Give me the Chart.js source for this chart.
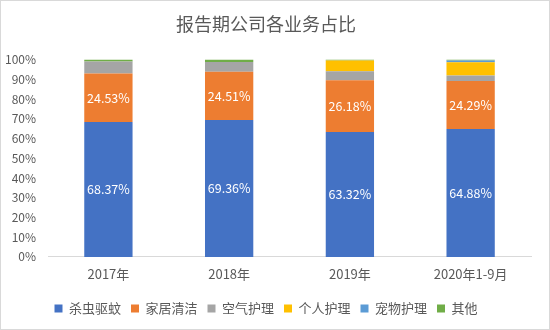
<!DOCTYPE html>
<html>
<head>
<meta charset="utf-8">
<script src="https://cdn.jsdelivr.net/npm/chart.js@4"></script>
<style>
  html, body { margin: 0; padding: 0; background: #fff; }
  #wrap { width: 548px; height: 328px; border: 1px solid #d9d9d9; position: relative; }
</style>
</head>
<body>
<div id="wrap"><canvas id="bizChart"></canvas></div>
<script>
var categories = ["2017年", "2018年", "2019年", "2020年1-9月"];
var seriesNames = ["杀虫驱蚊", "家居清洁", "空气护理", "个人护理", "宠物护理", "其他"];
var insect   = [68.37, 69.36, 63.32, 64.88];
var cleaning = [24.53, 24.51, 26.18, 24.29];
var air      = [6.2, 4.9, 4.6, 2.83];
var personal = [0, 0, 5.4, 6.6];
var pet      = [0, 0, 0, 1.0];
var other    = [0.9, 1.23, 0.5, 0.4];
var yTicks = [0, 10, 20, 30, 40, 50, 60, 70, 80, 90, 100];

var chartColors = ["#4472C4", "#ED7D31", "#A5A5A5", "#FFC000", "#5B9BD5", "#70AD47"];
var font = "'Noto Sans CJK SC', 'Noto Sans', sans-serif";

// white value labels on the first two series
var barLabels = {
    id: "barLabels",
    afterDatasetsDraw: function (chart) {
        var ctx = chart.ctx;
        ctx.save();
        ctx.fillStyle = "#ffffff";
        ctx.font = "12.5px " + font;
        ctx.textAlign = "center";
        ctx.textBaseline = "middle";
        [0, 1].forEach(function (di) {
            var meta = chart.getDatasetMeta(di);
            meta.data.forEach(function (bar, i) {
                var v = chart.data.datasets[di].data[i];
                var mid = (bar.y + bar.base) / 2;
                ctx.fillText(v.toFixed(2) + "%", bar.x, mid);
            });
        });
        ctx.restore();
    },
};

var allSeries = [insect, cleaning, air, personal, pet, other];

new Chart("bizChart", {
    type: "bar",
    data: {
        labels: categories,
        datasets: allSeries.map(function (d, i) {
            return {
                label: seriesNames[i],
                data: d,
                backgroundColor: chartColors[i],
                barPercentage: 0.4,
                categoryPercentage: 1,
            };
        }),
    },
    options: {
        responsive: true,
        maintainAspectRatio: false,
        animation: false,
        layout: { padding: { left: 0, right: 18, top: 6, bottom: 4 } },
        plugins: {
            title: {
                display: true,
                text: "报告期公司各业务占比",
                color: "#595959",
                font: { family: font, size: 18, weight: "normal" },
                padding: { top: 6, bottom: 25 },
            },
            legend: {
                position: "bottom",
                labels: {
                    color: "#595959",
                    font: { family: font, size: 13 },
                    boxWidth: 8,
                    boxHeight: 8,
                    padding: 10,
                },
            },
            tooltip: { enabled: false },
        },
        scales: {
            x: {
                stacked: true,
                grid: { display: false, drawTicks: false },
                border: { color: "#d9d9d9" },
                ticks: {
                    color: "#595959",
                    font: { family: font, size: 13, lineHeight: 2.7 },
                    padding: 0,
                },
            },
            y: {
                stacked: true,
                min: 0,
                max: 100,
                afterBuildTicks: function (axis) {
                    axis.ticks = yTicks.map(function (v) { return { value: v }; });
                },
                grid: { display: false },
                border: { display: false },
                ticks: {
                    color: "#595959",
                    font: { family: font, size: 12 },
                    padding: 4,
                    callback: function (v) { return v + "%"; },
                },
            },
        },
    },
    plugins: [barLabels],
});
</script>
</body>
</html>
